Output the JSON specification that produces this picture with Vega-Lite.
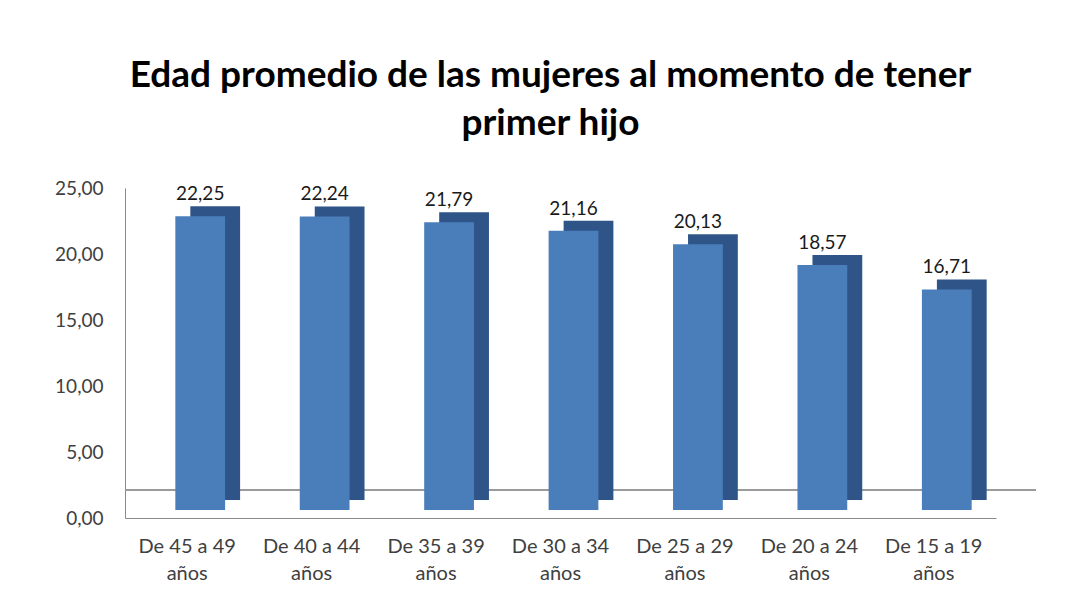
{
  "$schema": "https://vega.github.io/schema/vega-lite/v6.json",
  "width": 871,
  "height": 330,
  "autosize": "none",
  "padding": {"left": 125, "top": 188, "right": 87, "bottom": 82},
  "background": "white",
  "title": {
    "text": ["Edad promedio de las mujeres al momento de tener", "primer hijo"],
    "font": "Lato",
    "fontSize": 37,
    "fontWeight": "bold",
    "color": "#000000",
    "anchor": "middle",
    "dx": -10,
    "offset": 36,
    "lineHeight": 48
  },
  "config": {
    "view": {"stroke": null},
    "font": "Lato",
    "locale": {"number": {"decimal": ",", "thousands": ".", "grouping": [3], "currency": ["", ""]}}
  },
  "data": {
    "values": [
      {"grupo": "De 45 a 49 años", "edad": 22.25},
      {"grupo": "De 40 a 44 años", "edad": 22.24},
      {"grupo": "De 35 a 39 años", "edad": 21.79},
      {"grupo": "De 30 a 34 años", "edad": 21.16},
      {"grupo": "De 25 a 29 años", "edad": 20.13},
      {"grupo": "De 20 a 24 años", "edad": 18.57},
      {"grupo": "De 15 a 19 años", "edad": 16.71}
    ]
  },
  "layer": [
    {
      "mark": {"type": "rule", "color": "#9a9a9a", "xOffset": 40, "yOffset": -28},
      "encoding": {"y": {"datum": 0, "type": "quantitative", "scale": {"domain": [0, 25], "nice": false}}}
    },
    {
      "mark": {"type": "bar", "color": "#2F5487", "width": {"band": 0.4}, "xOffset": 28, "yOffset": -18, "y2Offset": -20},
      "encoding": {
        "x": {"field": "grupo", "type": "nominal", "sort": null, "scale": {"paddingInner": 0, "paddingOuter": 0},
          "axis": {"title": null, "labelAngle": 0, "ticks": false, "domainColor": "#898989", "labelColor": "#404040", "labelFontSize": 20, "labelPadding": 18, "labelLineHeight": 27, "labelExpr": "[slice(datum.label, 0, 10), 'años']"}},
        "y": {"field": "edad", "type": "quantitative", "scale": {"domain": [0, 25], "nice": false},
          "axis": {"title": null, "values": [0, 5, 10, 15, 20, 25], "format": ".2f", "ticks": false, "grid": false, "domainColor": "#898989", "labelColor": "#404040", "labelFontSize": 19, "labelPadding": 22}}
      }
    },
    {
      "mark": {"type": "bar", "color": "#4A7EBB", "width": {"band": 0.4}, "xOffset": 13, "yOffset": -8, "y2Offset": -10},
      "encoding": {
        "x": {"field": "grupo", "type": "nominal", "sort": null},
        "y": {"field": "edad", "type": "quantitative"}
      }
    },
    {
      "mark": {"type": "text", "fontSize": 19, "color": "#1a1a1a", "xOffset": 13, "yOffset": -24, "baseline": "alphabetic"},
      "encoding": {
        "x": {"field": "grupo", "type": "nominal", "sort": null},
        "y": {"field": "edad", "type": "quantitative"},
        "text": {"field": "edad", "type": "quantitative", "format": ".2f"}
      }
    }
  ]
}
